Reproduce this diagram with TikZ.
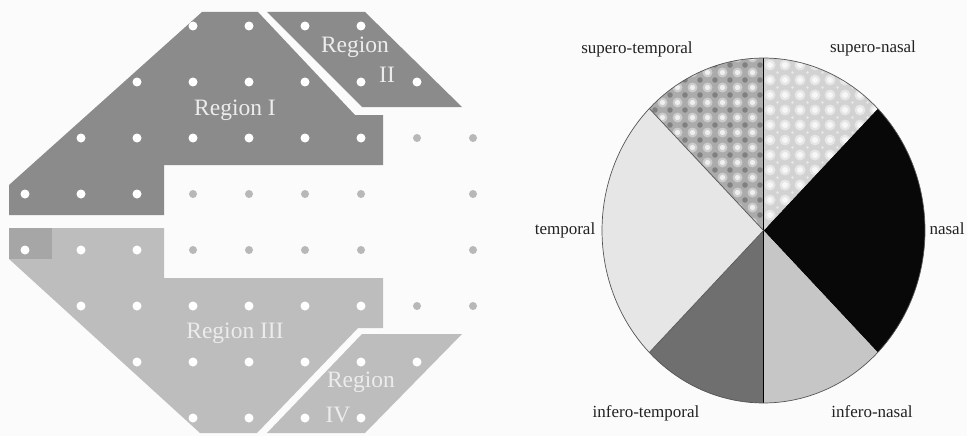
\documentclass[tikz,border=0pt]{standalone}
\usepackage{fontspec}
\setmainfont{Liberation Serif}
\definecolor{paper}{HTML}{FBFBFB}
\definecolor{regdark}{HTML}{8B8B8B}
\definecolor{reglight}{HTML}{BDBDBD}
\definecolor{regspot}{HTML}{A6A6A6}
\definecolor{regtext}{HTML}{ECECEC}
\definecolor{outdot}{HTML}{B8B8B8}
\definecolor{labtext}{HTML}{222222}
\definecolor{rim}{HTML}{555555}
\definecolor{snbase}{HTML}{D2D2D2}
\definecolor{stbase}{HTML}{ABABAB}
\definecolor{stspot}{HTML}{808080}
\definecolor{nasalc}{HTML}{080808}
\definecolor{infnasc}{HTML}{C6C6C6}
\definecolor{inftemc}{HTML}{6F6F6F}
\definecolor{tempc}{HTML}{E6E6E6}
\begin{document}
\begin{tikzpicture}[x=1pt,y=-1pt,
  regtxt/.style={text=regtext, inner sep=0pt, anchor=base, font=\fontsize{23.5}{26}\selectfont},
  pielab/.style={text=labtext, inner sep=0pt, anchor=base, font=\fontsize{17}{20}\selectfont},
  sector/.style 2 args={insert path={(763.5,230.5) -- plot[domain=#1:#2, samples=60, variable=\t]
      ({763.5+161.5*cos(\t)},{230.5-172.5*sin(\t)}) -- cycle}},
  whitedot/.style={fill=white},
  greydot/.style={fill=outdot}]

% page
\fill[paper] (0,0) rectangle (967,436);
\useasboundingbox (0,0) rectangle (967,436);

% ---------- field regions ----------
% Region I
\fill[regdark] (202,12) -- (258,12) -- (355,115) -- (383,115) -- (383,165)
  -- (164,165) -- (164,215) -- (9,215) -- (9,185) -- cycle;
% Region II
\fill[regdark] (267,12) -- (365,12) -- (462,107) -- (362,107) -- cycle;
% Region III
\fill[reglight] (9,228) -- (164,228) -- (164,278) -- (383,278) -- (383,328)
  -- (358,328) -- (257,433) -- (200,433) -- (9,259) -- cycle;
\fill[regspot] (9,228) rectangle (52,259);
% Region IV
\fill[reglight] (362,334) -- (462,334) -- (365,433) -- (267,433) -- cycle;

% test points inside the regions
\foreach \i/\j in {3/0,4/0,5/0,6/0,
                   2/1,3/1,4/1,5/1,6/1,7/1,
                   1/2,2/2,3/2,4/2,5/2,6/2,
                   0/3,1/3,2/3,
                   0/4,1/4,2/4,
                   1/5,2/5,3/5,4/5,5/5,6/5,
                   2/6,3/6,4/6,5/6,6/6,7/6,
                   3/7,4/7,5/7,6/7}
  \fill[whitedot] ({25+56*\i},{26+56*\j}) circle (4.5pt);
% test points outside the regions
\foreach \i/\j in {7/2,8/2,
                   3/3,4/3,5/3,6/3,8/3,
                   3/4,4/4,5/4,6/4,8/4,
                   7/5,8/5}
  \fill[greydot] ({25+56*\i},{26+56*\j}) circle (4pt);

% region names
\node[regtxt] (rI)    at (235,115) {Region I};
\node[regtxt] (rIIa)  at (355,53)  {Region};
\node[regtxt] (rIIb)  at (387,83)  {II};
\node[regtxt] (rIII)  at (235,338) {Region III};
\node[regtxt] (rIVa)  at (361,387) {Region};
\node[regtxt] (rIVb)  at (338,422) {IV};

% ---------- sector pie ----------
\coordinate (pc)   at (763.5,230.5);
\coordinate (ptop) at (763.5,58);
\coordinate (pbot) at (763.5,403);
\coordinate (p135) at ({763.5+161.5*cos(135)},{230.5-172.5*sin(135)});
\coordinate (p225) at ({763.5+161.5*cos(225)},{230.5-172.5*sin(225)});

\fill[nasalc]  [sector={-45}{45}];
\fill[infnasc] [sector={270}{315}];
\fill[inftemc] [sector={225}{270}];
\fill[tempc]   [sector={135}{225}];

% supero-nasal: light ground with soft bright spots
\begin{scope}
  \clip[sector={45}{90}];
  \fill[snbase] (755,50) rectangle (930,240);
  \foreach \i in {0,...,12} \foreach \j in {0,...,13} {
    \fill[white, opacity=.45] ({755+15*\i},{50+15*\j}) circle (5.5pt);
    \fill[white, opacity=.7] ({755+15*\i},{50+15*\j}) circle (3pt);
    \fill[white, opacity=.5] ({762.5+15*\i},{57.5+15*\j}) circle (1.4pt);
  }
\end{scope}
% supero-temporal: darker ground with dark and bright spots
\begin{scope}
  \clip[sector={90}{135}];
  \fill[stbase] (640,50) rectangle (770,240);
  \foreach \i in {0,...,9} \foreach \j in {0,...,13} {
    \fill[stspot] ({640+15*\i},{50+15*\j}) circle (2.8pt);
    \fill[white, opacity=.4] ({647.5+15*\i},{57.5+15*\j}) circle (5pt);
    \fill[white, opacity=.7] ({647.5+15*\i},{57.5+15*\j}) circle (2.6pt);
  }
\end{scope}

% dividers and rim
\draw[black, line width=0.8pt] (ptop) -- (pbot);
\draw[rim, line width=0.7pt] (pc) -- (p135);
\draw[rim, line width=0.7pt] (pc) -- (p225);
\draw[rim, line width=0.7pt] plot[domain=0:360, samples=180, variable=\t]
  ({763.5+161.5*cos(\t)},{230.5-172.5*sin(\t)}) -- cycle;

% sector names
\node[pielab] (lst) at (637,54)  {supero-temporal};
\node[pielab] (lsn) at (873,53)  {supero-nasal};
\node[pielab] (lt)  at (565,234) {temporal};
\node[pielab] (ln)  at (947,234) {nasal};
\node[pielab] (lit) at (646,417) {infero-temporal};
\node[pielab] (lin) at (872,417) {infero-nasal};
\end{tikzpicture}
\end{document}
